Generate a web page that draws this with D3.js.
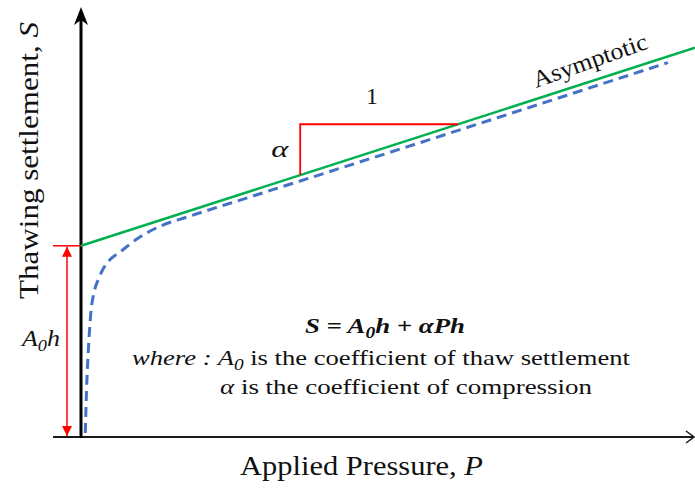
<!DOCTYPE html>
<html>
<head>
<meta charset="utf-8">
<script src="https://cdn.jsdelivr.net/npm/d3@7/dist/d3.min.js"></script>
<style>
  html, body { margin: 0; padding: 0; background: #fff; }
  svg { display: block; }
  text { font-family: "Liberation Serif", "Times New Roman", serif; fill: #111; }
</style>
</head>
<body>
<svg id="chart" width="695" height="491"></svg>
<script>
// Settlement curve under applied pressure (measured-style response)
const pressure   = [0.07, 0.09, 0.12, 0.16, 0.21, 0.28, 0.36, 0.47, 0.64, 0.91, 1.29, 1.73, 2.75, 3.57, 5.2, 6.82, 8.45, 9.56];
const settlement = [0.1, 1.18, 2.18, 3.1, 3.6, 3.93, 4.2, 4.43, 4.63, 4.95, 5.27, 5.5, 6.0, 6.4, 7.2, 8.0, 8.81, 9.36];

// Asymptote S = A0h + alpha * P
const A0h = 4.78;
const alpha = 0.495;
const asymptoteP = [0, 10];

// Slope triangle legs (pressure positions)
const slopeP = [3.57, 6.14];

const svg = d3.select("#chart");

const x = d3.scaleLinear().domain([0, 10]).range([81, 695]);
const y = d3.scaleLinear().domain([0, 10]).range([437, 37]);
const asym = p => A0h + alpha * p;

const RED = "#ff0000", GREEN = "#00b050", BLUE = "#4472c4";

// stretch a text element to a fixed advance width
function fit(sel, len) {
  return sel.attr("textLength", len).attr("lengthAdjust", "spacingAndGlyphs");
}

const defs = svg.append("defs");
defs.append("marker").attr("id", "redArrow")
  .attr("viewBox", "0 0 10 10").attr("refX", 10).attr("refY", 5)
  .attr("markerWidth", 10).attr("markerHeight", 10)
  .attr("markerUnits", "userSpaceOnUse").attr("orient", "auto-start-reverse")
  .append("path").attr("d", "M0,0 L10,5 L0,10 Z").attr("fill", RED);

// ---- axes ----
const x0 = x(0), yBase = y(0);
// horizontal axis
svg.append("line")
  .attr("x1", 53).attr("x2", 693).attr("y1", yBase).attr("y2", yBase)
  .attr("stroke", "#1a1a1a").attr("stroke-width", 2);
svg.append("path")
  .attr("d", `M${686},${yBase - 6} L${694},${yBase} L${686},${yBase + 6}`)
  .attr("fill", "none").attr("stroke", "#1a1a1a").attr("stroke-width", 1.5);

// vertical axis
svg.append("line")
  .attr("x1", x0).attr("x2", x0).attr("y1", yBase + 1).attr("y2", 20)
  .attr("stroke", "#000").attr("stroke-width", 3);
svg.append("path")
  .attr("d", `M${x0},7 L${x0 + 7},25 L${x0},20 L${x0 - 7},25 Z`)
  .attr("fill", "#000");

// ---- A0h dimension ----
const yA = y(A0h);
svg.append("line")
  .attr("x1", 53).attr("x2", x0).attr("y1", yA).attr("y2", yA)
  .attr("stroke", RED).attr("stroke-width", 1.5);
svg.append("line")
  .attr("x1", 67).attr("x2", 67).attr("y1", yA + 1).attr("y2", yBase - 1)
  .attr("stroke", RED).attr("stroke-width", 1.5)
  .attr("marker-start", "url(#redArrow)").attr("marker-end", "url(#redArrow)");

// ---- asymptote ----
svg.append("line")
  .attr("x1", x(asymptoteP[0])).attr("y1", y(asym(asymptoteP[0])))
  .attr("x2", x(asymptoteP[1])).attr("y2", y(asym(asymptoteP[1])))
  .attr("stroke", GREEN).attr("stroke-width", 2.5);

// ---- settlement curve ----
const curve = d3.line()
  .x((d, i) => x(pressure[i]))
  .y((d, i) => y(settlement[i]))
  .curve(d3.curveMonotoneX);
svg.append("path")
  .attr("d", curve(pressure))
  .attr("fill", "none").attr("stroke", BLUE).attr("stroke-width", 3)
  .attr("stroke-dasharray", "10,6");

// ---- slope triangle ----
const [p1, p2] = slopeP;
svg.append("path")
  .attr("d", `M${x(p1)},${y(asym(p1))} L${x(p1)},${y(asym(p2))} L${x(p2)},${y(asym(p2))}`)
  .attr("fill", "none").attr("stroke", RED).attr("stroke-width", 1.8);

svg.append("text").attr("x", (x(p1) + x(p2)) / 2 - 7).attr("y", y(asym(p2)) - 20)
  .attr("text-anchor", "middle").style("font-size", "23px").text("1");
fit(svg.append("text").attr("x", x(p1) - 29).attr("y", (y(asym(p1)) + y(asym(p2))) / 2 + 7)
  .style("font-size", "24px").style("font-style", "italic").text("α"), 17);

// "Asymptotic" label along the line
const angle = Math.atan2(y(asym(10)) - y(asym(0)), x(10) - x(0)) * 180 / Math.PI;
fit(svg.append("text")
  .attr("transform", `translate(536,88) rotate(${angle - 1.5})`)
  .style("font-size", "24px").text("Asymptotic"), 120);

// ---- axis titles ----
const xt = fit(svg.append("text").attr("x", 240).attr("y", 475)
  .style("font-size", "27px"), 243);
xt.append("tspan").text("Applied Pressure, ");
xt.append("tspan").style("font-style", "italic").text("P");

const yt = fit(svg.append("text")
  .attr("transform", "translate(38,299) rotate(-90)")
  .style("font-size", "28px"), 277);
yt.append("tspan").text("Thawing settlement, ");
yt.append("tspan").style("font-style", "italic").text("S");

// A0h label
const al = fit(svg.append("text").attr("x", 22).attr("y", 346)
  .style("font-size", "24px").style("font-style", "italic"), 38);
al.append("tspan").text("A");
al.append("tspan").attr("dy", 5).style("font-size", "17px").text("0");
al.append("tspan").attr("dy", -5).text("h");

// ---- equation block ----
const eq = fit(svg.append("text").attr("x", 305).attr("y", 333)
  .style("font-size", "22px").style("font-style", "italic").style("font-weight", "bold"), 160);
eq.append("tspan").text("S = A");
eq.append("tspan").attr("dy", 5).style("font-size", "16px").text("0");
eq.append("tspan").attr("dy", -5).text("h + αPh");

const l1 = fit(svg.append("text").attr("x", 132).attr("y", 365).style("font-size", "22px"), 498);
l1.append("tspan").style("font-style", "italic").text("where : A");
l1.append("tspan").attr("dy", 5).style("font-style", "italic").style("font-size", "16px").text("0");
l1.append("tspan").attr("dy", -5).text(" is the coefficient of thaw settlement");

const l2 = fit(svg.append("text").attr("x", 220).attr("y", 394).style("font-size", "22px"), 372);
l2.append("tspan").style("font-style", "italic").text("α");
l2.append("tspan").text(" is the coefficient of compression");
</script>
</body>
</html>
